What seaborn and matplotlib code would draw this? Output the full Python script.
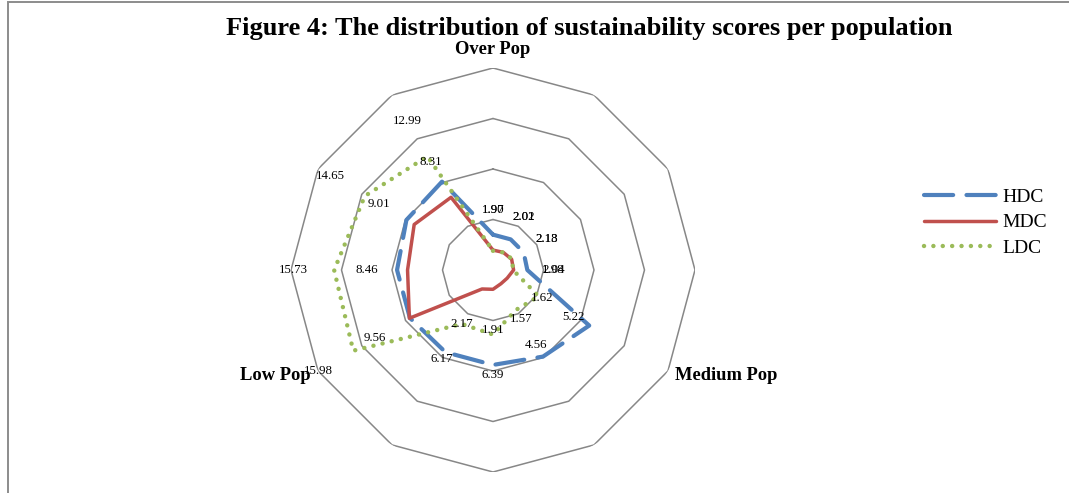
import numpy as np
import pandas as pd
import matplotlib
matplotlib.use("Agg")
import matplotlib.pyplot as plt
from matplotlib.lines import Line2D
from matplotlib.patches import Rectangle
import seaborn as sns

# Values (12 spokes, only three carry a name)
categories = ["Over Pop", "", "", "", "Medium Pop", "", "", "", "Low Pop", "", "", ""]
series_names = ["HDC", "MDC", "LDC"]
hdc = [3.5, 3.5, 3.5, 3.4, 11.0, 9.9, 9.4, 9.4, 9.5, 9.5, 9.9, 10.1]
mdc = [1.97, 2.02, 2.13, 2.04, 1.62, 1.57, 1.91, 2.17, 9.56, 8.46, 9.01, 8.31]
ldc = [1.90, 2.01, 2.18, 1.98, 5.22, 4.56, 6.39, 6.17, 15.98, 15.73, 14.65, 12.99]
rings = [5, 10, 15, 20]

colors = {"HDC": "#4F81BD", "MDC": "#C0504D", "LDC": "#9BBB59"}
dashes = {"HDC": (7, 3.2), "MDC": "", "LDC": (0.01, 2.1)}
widths = {"HDC": 3.0, "MDC": 2.5, "LDC": 3.2}
grid_color = "#878787"

sns.set_theme(style="white")
plt.rcParams["font.family"] = ["Liberation Serif", "DejaVu Serif"]
plt.rcParams["text.color"] = "black"

n = len(categories)
theta = np.linspace(0, 2 * np.pi, n, endpoint=False)
theta_closed = np.append(theta, theta[0] + 2 * np.pi)

# long table for seaborn, each polygon closed on its first point
rows = []
for name, vals in zip(series_names, [hdc, mdc, ldc]):
    vals_closed = list(vals) + [vals[0]]
    for t, v in zip(theta_closed, vals_closed):
        rows.append({"theta": t, "value": v, "series": name})
df = pd.DataFrame(rows)

fig = plt.figure(figsize=(10.69, 4.93), dpi=100)
W, H = 1069, 493
cx, cy, R = 493, 270, 202
ax = fig.add_axes([(cx - R) / W, (H - cy - R) / H, 2 * R / W, 2 * R / H], projection="polar")
ax.set_theta_zero_location("N")
ax.set_theta_direction(-1)
ax.set_ylim(0, 20)
ax.grid(False)
ax.spines["polar"].set_visible(False)
ax.set_xticks([])
ax.set_yticks([])
ax.patch.set_alpha(0)

# dodecagon grid
for r in rings:
    ax.plot(theta_closed, [r] * len(theta_closed), color=grid_color, lw=1.1, zorder=1)

n_grid = len(ax.lines)
sns.lineplot(data=df, x="theta", y="value", hue="series", style="series",
             hue_order=series_names, style_order=series_names,
             palette=colors, dashes=dashes, sort=False, estimator=None,
             linewidth=2.5, dash_capstyle="round", legend=False, ax=ax, zorder=3)
for line, s in zip(ax.lines[n_grid:], series_names):
    line.set_linewidth(widths[s])
    if dashes[s]:
        line.set_dashes(dashes[s])
ax.set_xlabel("")
ax.set_ylabel("")
ax.set_ylim(0, 20)

# data labels (MDC and LDC), pushed out along the spoke
for vals in [mdc, ldc]:
    for t, v in zip(theta, vals):
        ax.text(t, v + 4, f"{v:.2f}", ha="center", va="center", fontsize=9.3,
                color="black", zorder=5, clip_on=False)

# category names
offsets = {0: ((0, 7), "center", "bottom"), 4: ((5, -3), "left", "center"),
           8: ((-5, -3), "right", "center")}
for i, name in enumerate(categories):
    if not name:
        continue
    (dx, dy), ha, va = offsets[i]
    ax.annotate(name, xy=(theta[i], 20), xytext=(dx, dy), textcoords="offset points",
                ha=ha, va=va, fontsize=13.3, fontweight="bold", annotation_clip=False)

fig.text(589 / W, 1 - 29 / H, "Figure 4: The distribution of sustainability scores per population",
         ha="center", va="center", fontsize=19, fontweight="bold")

handles = [Line2D([0], [0], color=colors[s], lw=widths[s], dash_capstyle="round",
                  solid_capstyle="round") for s in series_names]
for h, s in zip(handles, series_names):
    if dashes[s]:
        h.set_dashes(dashes[s])
fig.legend(handles, series_names, loc="upper left", bbox_to_anchor=(924 / W, 1 - 188 / H),
           frameon=False, fontsize=14, handlelength=3.7, handletextpad=0.35,
           labelspacing=0.42, borderpad=0, borderaxespad=0)

# chart frame (partially cropped in the reference)
fig.add_artist(Rectangle((7.5 / W, -0.2), 1.2, 1.2 - 1.5 / H, transform=fig.transFigure,
                         fill=False, edgecolor="#8c8c8c", lw=1.4))

fig.savefig("out.png", dpi=100, facecolor="white")
